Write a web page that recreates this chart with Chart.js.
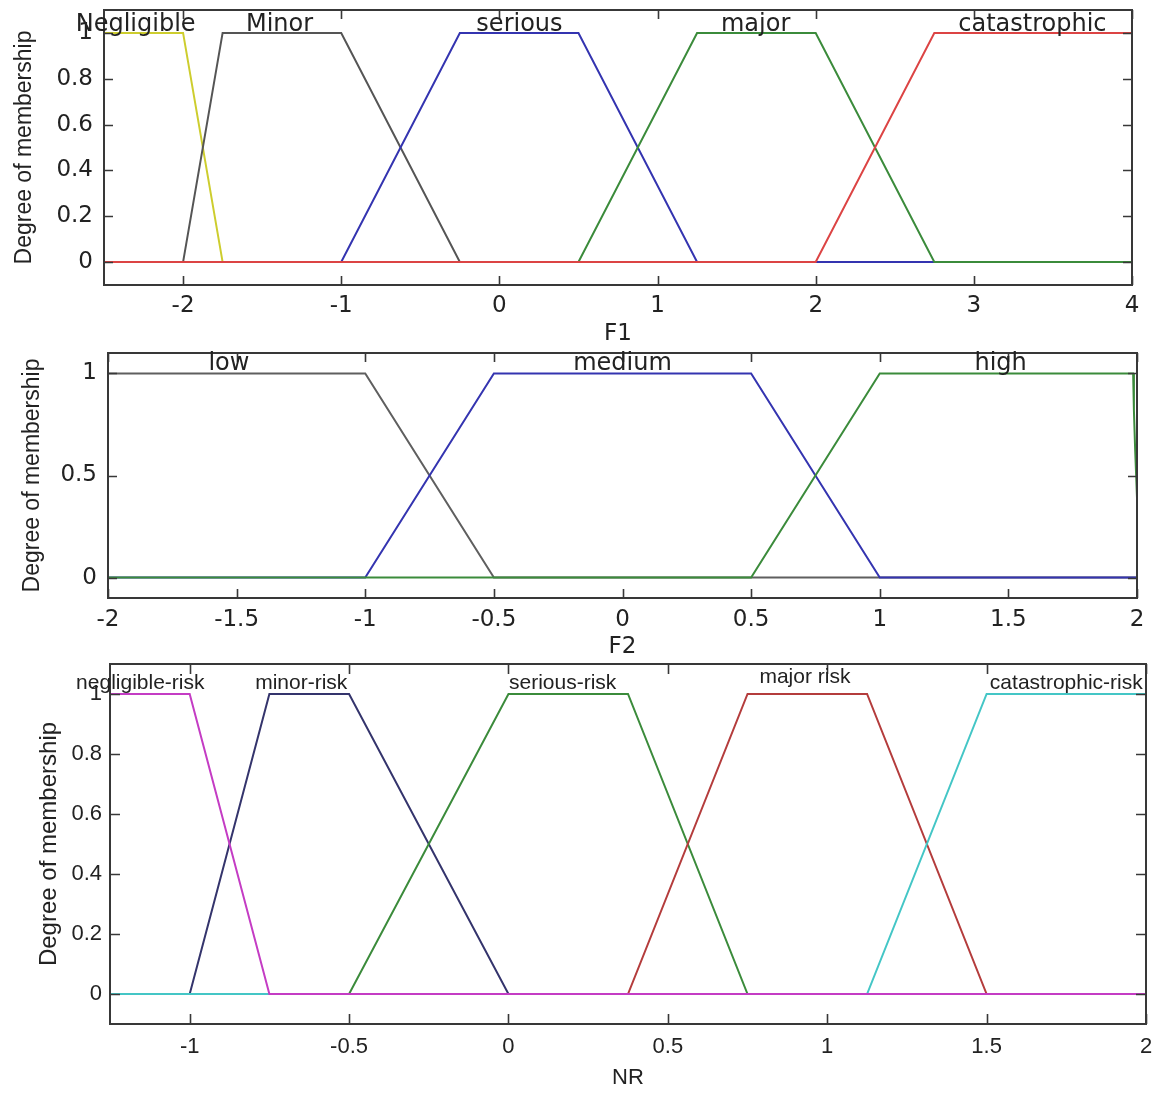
<!DOCTYPE html>
<html><head><meta charset="utf-8">
<script src="https://cdn.jsdelivr.net/npm/chart.js@4.4.1/dist/chart.umd.min.js"></script>
<style>
html,body{margin:0;padding:0;background:#fff;}
#wrap{position:relative;width:1157px;height:1093px;background:#fff;overflow:hidden}
canvas{position:absolute;left:0}
</style></head><body>
<div id="wrap">
<canvas id="p1" width="1157" height="348" style="top:0px"></canvas>
<canvas id="p2" width="1157" height="313" style="top:348px"></canvas>
<canvas id="p3" width="1157" height="432" style="top:661px"></canvas>
</div>
<script>
// ---------------- DATA ----------------
// Panel 1: input F1
const F1_NAMES = ['Negligible', 'Minor', 'serious', 'major', 'catastrophic'];
const F1_NEGLIGIBLE = [[-2.5, 1], [-2, 1], [-1.75, 0], [4, 0]];
const F1_MINOR = [[-2.5, 0], [-2, 0], [-1.75, 1], [-1, 1], [-0.25, 0], [4, 0]];
const F1_SERIOUS = [[-2.5, 0], [-1, 0], [-0.25, 1], [0.5, 1], [1.25, 0], [4, 0]];
const F1_MAJOR = [[-2.5, 0], [0.5, 0], [1.25, 1], [2, 1], [2.75, 0], [4, 0]];
const F1_CATASTROPHIC = [[-2.5, 0], [2, 0], [2.75, 1], [4, 1]];
const F1_LABEL_X = [-2.3, -1.39, 0.127, 1.62, 3.37];
const F1_LABEL_Y = [1.009, 1.009, 1.009, 1.009, 1.009];
const F1_TICKS_X = [-2, -1, 0, 1, 2, 3, 4];
const F1_TICKS_Y = [0, 0.2, 0.4, 0.6, 0.8, 1];

// Panel 2: input F2
const F2_NAMES = ['low', 'medium', 'high'];
const F2_LOW = [[-2, 1], [-1, 1], [-0.5, 0], [2, 0]];
const F2_MEDIUM = [[-2, 0], [-1, 0], [-0.5, 1], [0.5, 1], [1, 0], [2, 0]];
const F2_HIGH = [[-2, 0], [0.5, 0], [1, 1], [1.985, 1], [1.988, 0.82], [1.993, 0.62], [2, 0.39]];
const F2_LABEL_X = [-1.53, 0, 1.47];
const F2_LABEL_Y = [1.015, 1.015, 1.015];
const F2_TICKS_X = [-2, -1.5, -1, -0.5, 0, 0.5, 1, 1.5, 2];
const F2_TICKS_Y = [0, 0.5, 1];

// Panel 3: output NR
const NR_NAMES = ['negligible-risk', 'minor-risk', 'serious-risk', 'major risk', 'catastrophic-risk'];
const NR_NEGLIGIBLE = [[-1.25, 1], [-1, 1], [-0.75, 0], [2, 0]];
const NR_MINOR = [[-1.25, 0], [-1, 0], [-0.75, 1], [-0.5, 1], [0, 0], [2, 0]];
const NR_SERIOUS = [[-1.25, 0], [-0.5, 0], [0, 1], [0.375, 1], [0.75, 0], [2, 0]];
const NR_MAJOR = [[-1.25, 0], [0.375, 0], [0.75, 1], [1.125, 1], [1.5, 0], [2, 0]];
const NR_CATASTROPHIC = [[-1.25, 0], [1.125, 0], [1.5, 1], [2, 1]];
const NR_LABEL_X = [-1.155, -0.65, 0.17, 0.93, 1.75];
const NR_LABEL_Y = [1.017, 1.017, 1.017, 1.037, 1.017];
const NR_TICKS_X = [-1, -0.5, 0, 0.5, 1, 1.5, 2];
const NR_TICKS_Y = [0, 0.2, 0.4, 0.6, 0.8, 1];

// ---------------- RENDERING ----------------
const TEXT_COLOR = '#222222';
const FRAME_COLOR = '#383838';

const framePlugin = {
  id: 'frame',
  afterDatasetsDraw(chart, args, o) {
    const {ctx, chartArea: a, scales: {x, y}} = chart;
    ctx.save();
    ctx.strokeStyle = FRAME_COLOR;
    ctx.lineWidth = 2;
    ctx.strokeRect(a.left, a.top, a.right - a.left, a.bottom - a.top);
    ctx.beginPath();
    const tl = o.tickLen;
    x.ticks.forEach(t => {
      const px = Math.round(x.getPixelForValue(t.value)) + 0.5;
      ctx.moveTo(px, a.bottom); ctx.lineTo(px, a.bottom - tl);
      ctx.moveTo(px, a.top); ctx.lineTo(px, a.top + tl);
    });
    y.ticks.forEach(t => {
      const py = Math.round(y.getPixelForValue(t.value)) + 0.5;
      ctx.moveTo(a.left, py); ctx.lineTo(a.left + tl, py);
      ctx.moveTo(a.right, py); ctx.lineTo(a.right - tl, py);
    });
    ctx.lineWidth = 1.6;
    ctx.stroke();
    // membership function names
    ctx.fillStyle = TEXT_COLOR;
    ctx.font = o.labelFont;
    ctx.textAlign = 'center';
    ctx.textBaseline = 'alphabetic';
    o.names.forEach((n, i) => {
      ctx.fillText(n, x.getPixelForValue(o.labelX[i]), y.getPixelForValue(o.labelY[i]));
    });
    ctx.restore();
  }
};

function ds(pts, color, order) {
  return {
    data: pts.map(p => ({x: p[0], y: p[1]})),
    borderColor: color, backgroundColor: color,
    borderWidth: 2, pointRadius: 0, pointHoverRadius: 0,
    tension: 0, fill: false, order: order
  };
}

function noPad(s) { s.paddingTop = 0; s.paddingBottom = 0; s.paddingLeft = 0; s.paddingRight = 0; }

function makeChart(id, c) {
  return new Chart(document.getElementById(id), {
    type: 'line',
    data: {datasets: c.datasets},
    plugins: [framePlugin],
    options: {
      responsive: false,
      animation: false,
      events: [],
      layout: {padding: c.padding},
      plugins: {
        legend: {display: false}, tooltip: {enabled: false},
        frame: {tickLen: c.tickLen, names: c.names, labelX: c.labelX, labelY: c.labelY, labelFont: c.labelFont}
      },
      scales: {
        x: {
          type: 'linear', min: c.xMin, max: c.xMax,
          afterBuildTicks: s => { s.ticks = c.xTicks.map(v => ({value: v})); },
          afterFit: s => { s.height = c.xAxisH; noPad(s); },
          grid: {display: false, drawTicks: false},
          border: {display: false},
          ticks: {autoSkip: false, maxRotation: 0, padding: c.xTickPad, color: TEXT_COLOR,
            font: c.tickFont, callback: v => String(v)},
          title: {display: true, text: c.xTitle, color: TEXT_COLOR, font: c.xTitleFont,
            padding: {top: 0, bottom: c.xTitlePad}}
        },
        y: {
          type: 'linear', min: c.yMin, max: c.yMax,
          afterBuildTicks: s => { s.ticks = c.yTicks.map(v => ({value: v})); },
          afterFit: s => { s.width = c.yAxisW; noPad(s); },
          grid: {display: false, drawTicks: false},
          border: {display: false},
          ticks: {autoSkip: false, padding: c.yTickPad, color: TEXT_COLOR,
            font: c.tickFont, callback: v => String(v)},
          title: {display: true, text: 'Degree of membership', color: TEXT_COLOR, font: c.yTitleFont,
            padding: {top: c.yTitlePad, bottom: 0}}
        }
      }
    }
  });
}

makeChart('p1', {
  datasets: [
    ds(F1_NEGLIGIBLE, '#cdcd2e', 5),
    ds(F1_MINOR, '#555555', 4),
    ds(F1_SERIOUS, '#3434b0', 3),
    ds(F1_MAJOR, '#3b8b3b', 2),
    ds(F1_CATASTROPHIC, '#dc4444', 1)
  ],
  names: F1_NAMES, labelX: F1_LABEL_X, labelY: F1_LABEL_Y,
  labelFont: '24px "DejaVu Sans"',
  xMin: -2.5, xMax: 4, yMin: -0.1, yMax: 1.1,
  xTicks: F1_TICKS_X, yTicks: F1_TICKS_Y,
  xTitle: 'F1',
  padding: {top: 10, right: 25, left: 0, bottom: 0},
  xAxisH: 63, yAxisW: 104,
  tickLen: 9, xTickPad: 7, yTickPad: 11,
  tickFont: {family: 'DejaVu Sans', size: 23},
  xTitleFont: {family: 'DejaVu Sans', size: 23},
  xTitlePad: 0,
  yTitleFont: {family: 'Liberation Sans', size: 23},
  yTitlePad: 11
});

makeChart('p2', {
  datasets: [
    ds(F2_LOW, '#5f5f5f', 3),
    ds(F2_MEDIUM, '#3434b0', 2),
    ds(F2_HIGH, '#3b8b3b', 1)
  ],
  names: F2_NAMES, labelX: F2_LABEL_X, labelY: F2_LABEL_Y,
  labelFont: '24px "DejaVu Sans"',
  xMin: -2, xMax: 2, yMin: -0.1, yMax: 1.1,
  xTicks: F2_TICKS_X, yTicks: F2_TICKS_Y,
  xTitle: 'F2',
  padding: {top: 5, right: 20, left: 0, bottom: 0},
  xAxisH: 63, yAxisW: 108,
  tickLen: 9, xTickPad: 8, yTickPad: 11,
  tickFont: {family: 'DejaVu Sans', size: 23},
  xTitleFont: {family: 'DejaVu Sans', size: 23},
  xTitlePad: 0,
  yTitleFont: {family: 'Liberation Sans', size: 23},
  yTitlePad: 19
});

makeChart('p3', {
  datasets: [
    ds(NR_NEGLIGIBLE, '#c43cc4', 1),
    ds(NR_MINOR, '#34346c', 5),
    ds(NR_SERIOUS, '#3b8b3b', 4),
    ds(NR_MAJOR, '#b43c3c', 3),
    ds(NR_CATASTROPHIC, '#44c6c6', 2)
  ],
  names: NR_NAMES, labelX: NR_LABEL_X, labelY: NR_LABEL_Y,
  labelFont: '21px "Liberation Sans"',
  xMin: -1.25, xMax: 2, yMin: -0.1, yMax: 1.1,
  xTicks: NR_TICKS_X, yTicks: NR_TICKS_Y,
  xTitle: 'NR',
  padding: {top: 3, right: 11, left: 0, bottom: 0},
  xAxisH: 69, yAxisW: 110,
  tickLen: 10, xTickPad: 10, yTickPad: 8,
  tickFont: {family: 'Liberation Sans', size: 22},
  xTitleFont: {family: 'Liberation Sans', size: 22},
  xTitlePad: 2,
  yTitleFont: {family: 'Liberation Sans', size: 24},
  yTitlePad: 35
});
</script>
</body></html>
